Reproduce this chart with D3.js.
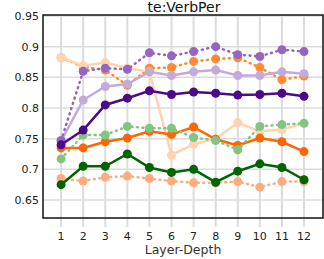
<!DOCTYPE html>
<html>
<head>
<meta charset="utf-8">
<script src="https://cdn.jsdelivr.net/npm/d3@7"></script>
<style>
  body { margin: 0; background: #fff; }
  text { font-family: "DejaVu Sans", sans-serif; }
</style>
</head>
<body>
<div class="graph"></div>
<script>
// data
var layers = [1, 2, 3, 4, 5, 6, 7, 8, 9, 10, 11, 12];
var yTicks = [0.65, 0.7, 0.75, 0.8, 0.85, 0.9, 0.95];

var lightOrangeDot = [0.685, 0.681, 0.687, 0.689, 0.685, 0.681, 0.678, 0.678, 0.680, 0.671, 0.680, 0.680];
var peachSolid = [0.882, 0.869, 0.874, 0.865, 0.859, 0.723, 0.741, 0.750, 0.776, 0.762, 0.765, 0.775];
var orangeDot = [0.882, 0.867, 0.862, 0.837, 0.865, 0.866, 0.876, 0.880, 0.882, 0.866, 0.846, 0.852];
var orangeSolid = [0.735, 0.735, 0.745, 0.751, 0.762, 0.757, 0.769, 0.749, 0.739, 0.751, 0.745, 0.729];
var darkGreen = [0.675, 0.705, 0.705, 0.725, 0.703, 0.695, 0.700, 0.679, 0.697, 0.709, 0.703, 0.683];
var lightGreenDot = [0.717, 0.756, 0.756, 0.770, 0.767, 0.767, 0.752, 0.747, 0.732, 0.770, 0.773, 0.775];
var lightPurple = [0.746, 0.813, 0.835, 0.839, 0.859, 0.853, 0.859, 0.862, 0.853, 0.853, 0.859, 0.856];
var purpleDot = [0.747, 0.860, 0.865, 0.863, 0.890, 0.885, 0.892, 0.900, 0.887, 0.884, 0.895, 0.892];
var darkPurple = [0.740, 0.764, 0.805, 0.816, 0.828, 0.822, 0.826, 0.824, 0.821, 0.822, 0.824, 0.819];

var series = [
    { values: lightOrangeDot, color: "#ffab80", dotted: true },
    { values: orangeDot, color: "#ff8a33", dotted: true },
    { values: peachSolid, color: "#ffd3ad", dotted: false },
    { values: orangeSolid, color: "#ff6600", dotted: false },
    { values: darkGreen, color: "#006400", dotted: false },
    { values: lightGreenDot, color: "#80c680", dotted: true },
    { values: lightPurple, color: "#c2aadb", dotted: false },
    { values: purpleDot, color: "#9466bd", dotted: true },
    { values: darkPurple, color: "#4b0a87", dotted: false }
];

var W = 324, H = 259;
var mLeft = 43, mRight = 323, mTop = 15, mBottom = 218;

var x = d3.scaleLinear().domain([0.18, 12.86]).range([mLeft, mRight]);
var y = d3.scaleLinear().domain([0.6207, 0.9516]).range([mBottom, mTop]);

var svg = d3.select(".graph").append("svg")
    .attr("width", W)
    .attr("height", H);

// grid
svg.append("g").selectAll("line")
    .data(layers)
    .enter().append("line")
    .attr("x1", function (d) { return x(d); })
    .attr("x2", function (d) { return x(d); })
    .attr("y1", mTop)
    .attr("y2", mBottom + 9)
    .attr("stroke", "#dcdcdc")
    .attr("stroke-width", 2);

svg.append("g").selectAll("line")
    .data(yTicks)
    .enter().append("line")
    .attr("x1", mLeft)
    .attr("x2", mRight)
    .attr("y1", function (d) { return y(d); })
    .attr("y2", function (d) { return y(d); })
    .attr("stroke", "#dcdcdc")
    .attr("stroke-width", 1.5);

// series
var line = d3.line()
    .x(function (d, i) { return x(layers[i]); })
    .y(function (d) { return y(d); });

series.forEach(function (s) {
    var g = svg.append("g");
    g.append("path")
        .datum(s.values)
        .attr("fill", "none")
        .attr("stroke", s.color)
        .attr("stroke-width", 2.5)
        .attr("stroke-linecap", s.dotted ? "round" : "butt")
        .attr("stroke-dasharray", s.dotted ? "1,4.5" : null)
        .attr("d", line);
    g.selectAll("circle")
        .data(s.values)
        .enter().append("circle")
        .attr("cx", function (d, i) { return x(layers[i]); })
        .attr("cy", function (d) { return y(d); })
        .attr("r", 4.5)
        .attr("fill", s.color);
});

// frame
svg.append("rect")
    .attr("x", mLeft)
    .attr("y", mTop)
    .attr("width", mRight - mLeft)
    .attr("height", mBottom - mTop)
    .attr("fill", "none")
    .attr("stroke", "#111")
    .attr("stroke-width", 1.5);

// axes labels
svg.append("g").selectAll("text")
    .data(layers)
    .enter().append("text")
    .attr("x", function (d) { return x(d); })
    .attr("y", 240)
    .attr("text-anchor", "middle")
    .attr("font-size", "11px")
    .attr("fill", "#222")
    .text(function (d) { return d; });

svg.append("g").selectAll("text")
    .data(yTicks)
    .enter().append("text")
    .attr("x", 39)
    .attr("y", function (d) { return y(d) + 4; })
    .attr("text-anchor", "end")
    .attr("font-size", "11px")
    .attr("fill", "#222")
    .text(function (d) { return d3.format("")(d); });

svg.append("text")
    .attr("x", (mLeft + mRight) / 2 + 1)
    .attr("y", 12)
    .attr("text-anchor", "middle")
    .attr("font-size", "14px")
    .attr("fill", "#111")
    .text("te:VerbPer");

svg.append("text")
    .attr("x", (mLeft + mRight) / 2)
    .attr("y", 254)
    .attr("text-anchor", "middle")
    .attr("font-size", "12.5px")
    .attr("fill", "#333")
    .text("Layer-Depth");
</script>
</body>
</html>
